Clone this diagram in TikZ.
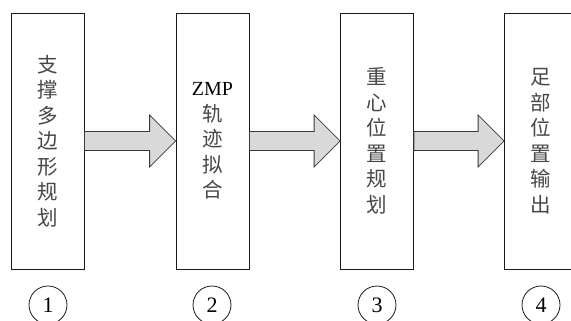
\documentclass[tikz,border=0pt]{standalone}
\usepackage{fontspec}
\setmainfont{Liberation Serif}
\newfontfamily\cjk{Noto Sans CJK SC}
\usetikzlibrary{calc}
\definecolor{arrowfill}{HTML}{D9D9D9}
\definecolor{edgegray}{HTML}{3A3A3A}
\tikzset{
  stagebox/.style={draw=black!90, line width=0.8pt, fill=white, minimum width=73pt, minimum height=256pt,
    inner sep=0pt, align=center, font=\cjk\fontsize{20.5}{25.5}\selectfont, text=black!72},
  bigarrow/.style={draw=edgegray, line width=0.8pt, fill=arrowfill, line join=miter},
  numcircle/.style={draw=black!90, line width=0.8pt, circle, minimum size=38pt, inner sep=0pt,
    font=\fontsize{22}{22}\selectfont}
}
\begin{document}
\begin{tikzpicture}[x=1pt,y=-1pt]
\useasboundingbox (0,0) rectangle (571,321);
\node[stagebox] (b1) at (47.5,141) {支\\撑\\多\\边\\形\\规\\划};
\node[stagebox] (b2) at (212.5,141) {{\rmfamily\color{black}\fontsize{20}{25}\selectfont ZMP}\\轨\\迹\\拟\\合};
\node[stagebox] (b3) at (377,141) {重\\心\\位\\置\\规\\划};
\node[stagebox] (b4) at (541,141) {足\\部\\位\\置\\输\\出};
\foreach \a/\b in {b1/b2,b2/b3,b3/b4}{
  \draw[bigarrow] ($(\a.east)+(0,-9.5)$) -- ($(\b.west)+(-26,-9.5)$) -- ($(\b.west)+(-26,-26)$)
    -- (\b.west) -- ($(\b.west)+(-26,26)$) -- ($(\b.west)+(-26,9.5)$) -- ($(\a.east)+(0,9.5)$) -- cycle;
}
\node[numcircle] (c1) at (48,305) {1};
\node[numcircle] (c2) at (212,305) {2};
\node[numcircle] (c3) at (377,305) {3};
\node[numcircle] (c4) at (541,305) {4};
\end{tikzpicture}
\end{document}
